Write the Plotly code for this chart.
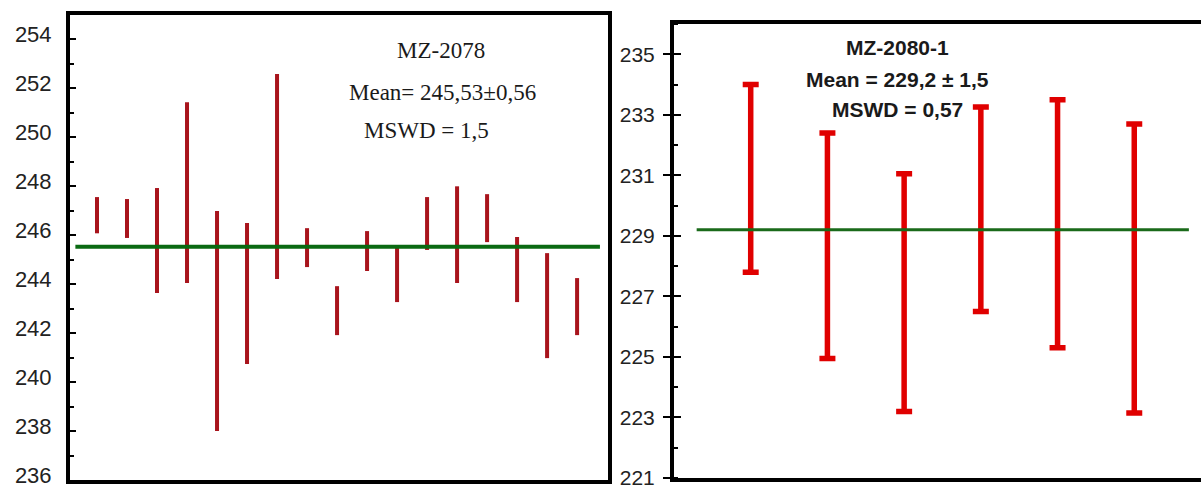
import plotly.graph_objects as go

# MZ-2078: individual spot ages (lower / upper bounds of each error bar)
mz2078_low = [246.08, 245.89, 243.64, 244.05, 238.0, 240.74, 244.21, 244.7, 241.92,
              244.54, 243.27, 245.4, 244.05, 245.72, 243.27, 240.98, 241.92]
mz2078_high = [247.56, 247.48, 247.93, 251.44, 246.99, 246.5, 252.59, 246.29, 243.92,
               246.17, 245.6, 247.56, 248.0, 247.68, 245.93, 245.27, 244.25]
mz2078_mean = 245.53

# MZ-2080-1: individual spot ages
mz2080_low = [227.8, 224.95, 223.2, 226.5, 225.3, 223.15]
mz2080_high = [234.0, 232.4, 231.05, 233.26, 233.5, 232.7]
mz2080_mean = 229.2

left_text = ["MZ-2078", "Mean= 245,53±0,56", "MSWD = 1,5"]
right_text = ["MZ-2080-1", "Mean = 229,2 ± 1,5", "MSWD = 0,57"]

W, H = 1201, 490


def px(x):
    return x / W


def py(y):
    return 1 - y / H


def bars(low, high):
    mid = [(a + b) / 2 for a, b in zip(low, high)]
    half = [(b - a) / 2 for a, b in zip(low, high)]
    return list(range(1, len(low) + 1)), mid, half


fig = go.Figure()

xs, mid, half = bars(mz2078_low, mz2078_high)
fig.add_trace(go.Scatter(
    x=xs, y=mid, mode="markers", xaxis="x", yaxis="y",
    marker=dict(size=1, color="rgba(0,0,0,0)"),
    error_y=dict(type="data", array=half, visible=True, width=0,
                 thickness=4, color="#A8141C"),
    showlegend=False, hoverinfo="skip"))

xs2, mid2, half2 = bars(mz2080_low, mz2080_high)
fig.add_trace(go.Scatter(
    x=xs2, y=mid2, mode="markers", xaxis="x2", yaxis="y2",
    marker=dict(size=1, color="rgba(0,0,0,0)"),
    error_y=dict(type="data", array=half2, visible=True, width=8,
                 thickness=5.5, color="#E00000"),
    showlegend=False, hoverinfo="skip"))

# weighted-mean lines
fig.add_shape(type="line", xref="x domain", yref="y", x0=0.01, x1=0.985,
              y0=mz2078_mean, y1=mz2078_mean, line=dict(color="#0A6A12", width=4))
fig.add_shape(type="line", xref="x2 domain", yref="y2", x0=0.043, x1=0.977,
              y0=mz2080_mean, y1=mz2080_mean, line=dict(color="#1A6A1A", width=3))

left_tick_font = dict(family="Liberation Sans, Arial", size=22, color="#222222")
right_tick_font = dict(family="Liberation Sans, Arial", size=21, color="#222222")

fig.update_layout(
    width=W, height=H,
    margin=dict(l=0, r=0, t=0, b=0),
    paper_bgcolor="white", plot_bgcolor="white",
    xaxis=dict(domain=[px(70), px(608)], range=[0.1, 18.03], showgrid=False,
               zeroline=False, showticklabels=False, ticks="", automargin=False,
               showline=True, linecolor="black", linewidth=4, mirror=True),
    yaxis=dict(domain=[py(480), py(15)], range=[236, 255], anchor="x",
               showgrid=False, zeroline=False, automargin=False,
               tickmode="linear", tick0=236, dtick=2,
               ticks="inside", ticklen=6, tickwidth=2, tickcolor="black",
               minor=dict(ticks="inside", ticklen=4, tickwidth=2, tickcolor="black",
                          dtick=1, tick0=236, showgrid=False),
               tickfont=left_tick_font, ticklabelstandoff=10, ticklabelshift=-5,
               ticklabeloverflow="allow",
               showline=True, linecolor="black", linewidth=4, mirror=True),
    xaxis2=dict(domain=[px(674), 1.0], range=[0, 6.87], anchor="y2", showgrid=False,
                zeroline=False, showticklabels=False, ticks="", automargin=False,
                showline=True, linecolor="black", linewidth=4, mirror=True),
    yaxis2=dict(domain=[py(478), py(24)], range=[221, 236], anchor="x2",
                showgrid=False, zeroline=False, automargin=False,
                tickmode="linear", tick0=221, dtick=2,
                ticks="outside", ticklen=7, tickwidth=2, tickcolor="black",
                minor=dict(ticks="inside", ticklen=4, tickwidth=2, tickcolor="black",
                           dtick=1, tick0=221, showgrid=False),
                tickfont=right_tick_font, ticklabelstandoff=4,
                ticklabeloverflow="allow",
                showline=True, linecolor="black", linewidth=4, mirror=False),
    # inner half of the crossing major ticks on the right panel
    yaxis3=dict(domain=[py(478), py(24)], range=[221, 236], anchor="x2",
                overlaying="y2", side="left", showgrid=False, zeroline=False,
                automargin=False,
                tickmode="linear", tick0=221, dtick=2,
                ticks="inside", ticklen=7, tickwidth=2, tickcolor="black",
                showticklabels=False, showline=False),
)

# dummy trace so the overlay axis is rendered
fig.add_trace(go.Scatter(x=[None], y=[None], xaxis="x2", yaxis="y3",
                         showlegend=False, hoverinfo="skip"))

left_pos = [(441, 50), (442, 92), (426, 130)]
for txt, (x, y) in zip(left_text, left_pos):
    fig.add_annotation(text=txt, xref="paper", yref="paper", x=px(x), y=py(y),
                       xanchor="center", yanchor="middle", showarrow=False,
                       font=dict(family="Liberation Serif, Times New Roman",
                                 size=23, color="#1a1a1a"))

right_y = [48, 80, 109]
for txt, y in zip(right_text, right_y):
    fig.add_annotation(text="<b>" + txt + "</b>", xref="paper", yref="paper",
                       x=px(897), y=py(y), xanchor="center", yanchor="middle",
                       showarrow=False,
                       font=dict(family="Liberation Sans, Arial", size=21,
                                 color="#1a1a1a"))

fig.write_html("out.html")
